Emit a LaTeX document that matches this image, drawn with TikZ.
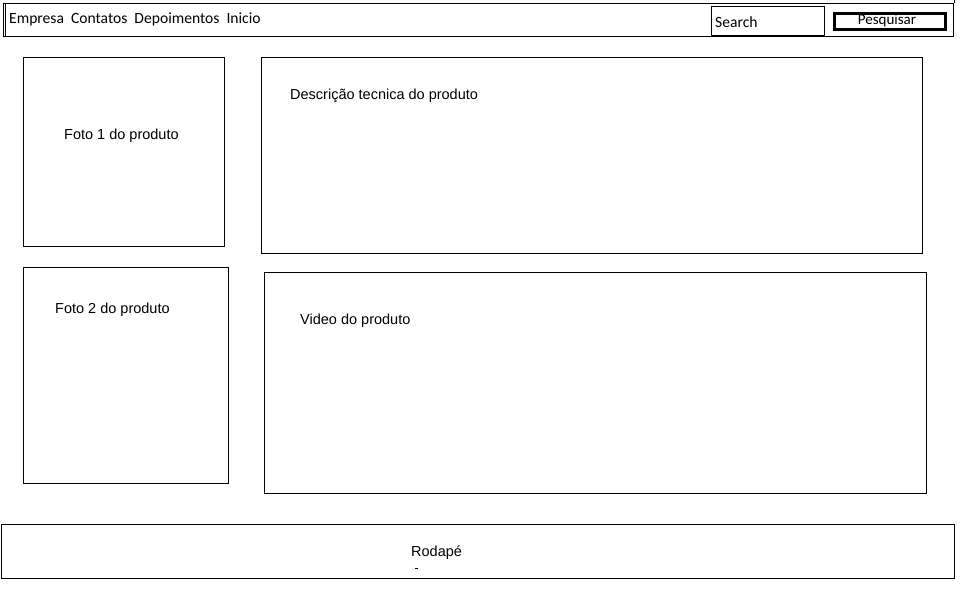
\documentclass[tikz,border=0pt]{standalone}
\usepackage{fontspec}
\setmainfont{Liberation Sans}
\newfontfamily\navfont{Carlito}
\begin{document}
\begin{tikzpicture}[x=1pt,y=-1pt,
  box/.style={draw=black,line width=1pt,fill=white,anchor=north west,inner sep=0pt},
  lbl/.style={font=\fontsize{14.5}{16}\selectfont,inner sep=0pt,anchor=west},
  nav/.style={font=\navfont\fontsize{15.6}{17}\selectfont,inner sep=0pt,anchor=base west}]
\useasboundingbox[fill=white] (0,0) rectangle (969,600);
% top bar
\node[box,minimum width=950pt,minimum height=33pt] (bar) at (3,3) {};
\draw[line width=1pt] (5,3) -- (5,37);
\draw[line width=1pt] (bar.north east) -- ++(0,-3);
\node[nav] (nav) at (9,23.5) {Empresa\ \ Contatos\ \ Depoimentos\ \ Inicio};
\node[box,minimum width=113pt,minimum height=29pt] (search) at (711,6) {};
\node[nav] (searcht) at (715,27) {Search};
\node[box,line width=3pt,minimum width=111pt,minimum height=16pt] (btn) at (833,12) {};
\node[nav,anchor=base,font=\navfont\fontsize{15}{17}\selectfont] (btnt) at (887,24.5) {Pesquisar};
% content boxes
\node[box,minimum width=201pt,minimum height=189pt] (foto1) at (23,57) {};
\node[lbl] (foto1t) at (64,135.5) {Foto 1 do produto};
\node[box,minimum width=661pt,minimum height=196pt] (desc) at (261,57) {};
\node[lbl] (desct) at (290,95.5) {Descrição tecnica do produto};
\node[box,minimum width=205pt,minimum height=216pt] (foto2) at (23,267) {};
\node[lbl] (foto2t) at (55,309.5) {Foto 2 do produto};
\node[box,minimum width=662pt,minimum height=221pt] (video) at (264,272) {};
\node[lbl] (videot) at (300,320.5) {Video do produto};
% footer
\node[box,minimum width=953pt,minimum height=54pt] (foot) at (1,524) {};
\node[lbl] (foott) at (411,552.5) {Rodapé};
\draw[line width=1pt] (415,568) -- (418,568);
\end{tikzpicture}
\end{document}
